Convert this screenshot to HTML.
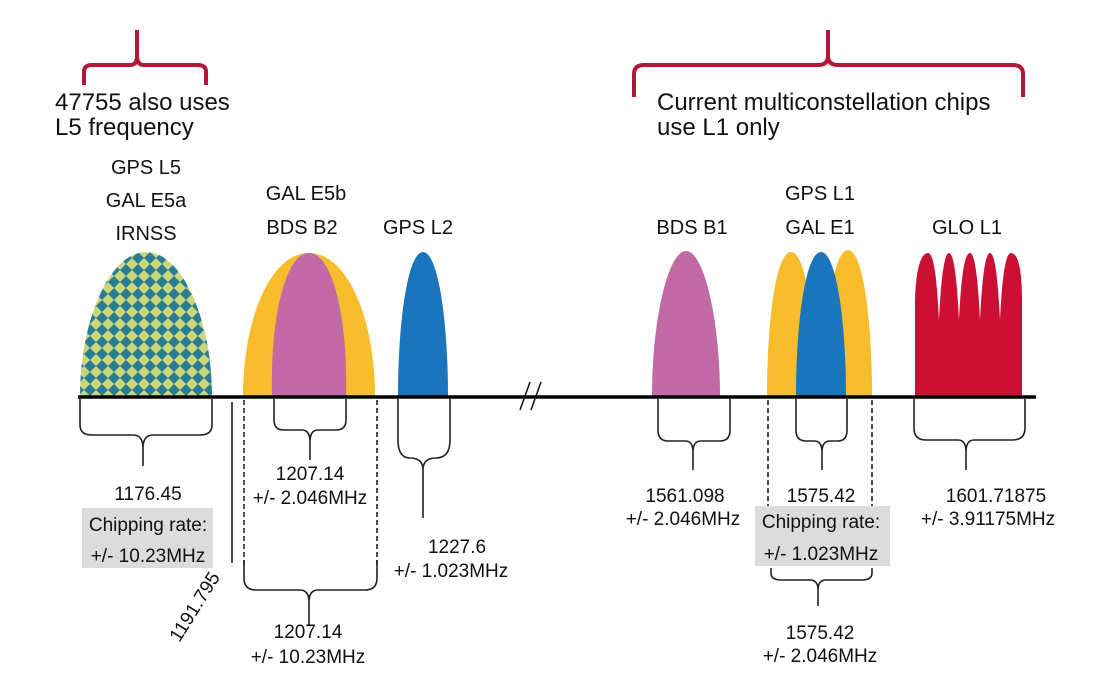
<!DOCTYPE html>
<html><head><meta charset="utf-8"><style>
html,body{margin:0;padding:0;background:#fff;}
svg{display:block;font-family:"Liberation Sans",Arial,sans-serif;}
</style></head><body>
<svg width="1105" height="686" viewBox="0 0 1105 686" xmlns="http://www.w3.org/2000/svg">
<defs>
<pattern id="chk" width="12" height="12" patternUnits="userSpaceOnUse">
<rect width="12" height="12" fill="#c9d77a"/>
<path d="M6 0 L12 6 L6 12 L0 6 Z" fill="#2a7d94"/>
</pattern>
</defs>
<g fill="none" stroke="#b3183a" stroke-width="4" stroke-linejoin="round">
<path d="M84 85 L84 72 Q84 65 92 65 L130 65 Q137 65 137 56 L137 30 M137 56 Q137 65 144 65 L198 65 Q206 65 206 72 L206 85"/>
<path d="M634 97 L634 74 Q634 65 644 65 L818 65 Q828 65 828 56 L828 30 M828 56 Q828 65 838 65 L1013 65 Q1023 65 1023 74 L1023 97"/>
</g>
<g font-size="24" fill="#111">
<text x="55" y="110">47755 also uses</text>
<text x="55" y="135">L5 frequency</text>
<text x="657" y="110">Current multiconstellation chips</text>
<text x="657" y="135">use L1 only</text>
</g>
<g font-size="20" fill="#111" text-anchor="middle">
<text x="146" y="174">GPS L5</text>
<text x="146" y="207">GAL E5a</text>
<text x="146" y="240">IRNSS</text>
<text x="306" y="200">GAL E5b</text>
<text x="302" y="234">BDS B2</text>
<text x="418" y="234">GPS L2</text>
<text x="692" y="234">BDS B1</text>
<text x="820" y="200">GPS L1</text>
<text x="820" y="234">GAL E1</text>
<text x="967" y="234">GLO L1</text>
</g>
<path d="M80 396 C80 320 110 252 146 252 C182 252 212 320 212 396 Z" fill="url(#chk)"/>
<path d="M243 396 C243 320 270 253 309 253 C348 253 375 320 375 396 Z" fill="#f8bd2c"/>
<path d="M272 396 C270 320 285 253 309 253 C333 253 348 320 346 396 Z" fill="#c26aa6"/>
<path d="M398 396 C398 320 408 252 423 252 C438 252 448 320 448 396 Z" fill="#1b75bc"/>
<path d="M652 396 C652 320 668 251 686 251 C704 251 720 320 720 396 Z" fill="#c26aa6"/>
<path d="M767 396 C767 320 776 252 791 252 C806 252 815 320 815 396 Z" fill="#f8bd2c"/>
<path d="M824 396 C824 320 833 250 848 250 C863 250 872 320 872 396 Z" fill="#f8bd2c"/>
<path d="M796 396 C796 320 806 252 821 252 C836 252 846 320 846 396 Z" fill="#1b75bc"/>
<path d="M915 396 L915 300 C916 265 922 253 928 253 C934 253 937 280 939 320 C941 280 944 253 949 253 C954 253 957 280 959 320 C961 280 964 253 970 253 C975 253 978 280 980 320 C982 280 985 253 990 253 C995 253 998 280 1000 320 C1002 280 1005 253 1011 253 C1017 253 1022 265 1022 300 L1022 396 Z" fill="#cc1034"/>
<line x1="78" y1="397" x2="1036" y2="397" stroke="#000" stroke-width="3.5"/>
<g stroke="#111" stroke-width="1.5" fill="none">
<line x1="520" y1="410" x2="530" y2="382"/><line x1="531" y1="410" x2="541" y2="382"/>
</g>
<g stroke="#222" stroke-width="1.6" fill="none">
<path d="M80 399 L80 425 Q80 435 92 435 L133 435 Q143 435 143 448 L143 466 M143 448 Q143 435 153 435 L200 435 Q212 435 212 425 L212 399"/>
<path d="M274 399 L274 420 Q274 430 284 430 L302 430 Q310 430 310 442 L310 460 M310 442 Q310 430 318 430 L336 430 Q346 430 346 420 L346 399"/>
<path d="M398 399 L398 440 Q398 458 410 458 Q423 458 423 470 L423 518 M423 470 Q423 458 436 458 Q450 458 450 440 L450 399"/>
<path d="M658 399 L658 430 Q658 441 668 441 L685 441 Q693 441 693 452 L693 470 M693 452 Q693 441 701 441 L720 441 Q730 441 730 430 L730 399"/>
<path d="M796 399 L796 430 Q796 441 806 441 L814 441 Q822 441 822 452 L822 470 M822 452 Q822 441 830 441 L838 441 Q847 441 847 430 L847 399"/>
<path d="M914 399 L914 428 Q914 440 926 440 L958 440 Q966 440 966 452 L966 470 M966 452 Q966 440 974 440 L1012 440 Q1025 440 1025 428 L1025 399"/>
<path d="M244 560 L244 578 Q244 590 256 590 L300 590 Q309 590 309 602 L309 626 M309 602 Q309 590 318 590 L365 590 Q377 590 377 578 L377 560"/>
<path d="M771 568 L771 573 Q771 580 781 580 L810 580 Q818 580 818 590 L818 606 M818 590 Q818 580 826 580 L862 580 Q872 580 872 573 L872 568"/>
<line x1="232" y1="402" x2="232" y2="563"/>
</g>
<g stroke="#222" stroke-width="1.6" stroke-dasharray="5,3" fill="none">
<line x1="244" y1="400" x2="244" y2="565"/>
<line x1="377" y1="400" x2="377" y2="565"/>
<line x1="768" y1="400" x2="768" y2="506"/>
<line x1="872" y1="400" x2="872" y2="506"/>
</g>
<rect x="82" y="508" width="131" height="60" fill="#dcdcdc"/>
<rect x="755" y="506" width="135" height="60" fill="#dcdcdc"/>
<g font-size="19" fill="#111" text-anchor="middle">
<text x="148" y="500">1176.45</text>
<text x="148" y="531">Chipping rate:</text>
<text x="148" y="562">+/- 10.23MHz</text>
<text x="310" y="480">1207.14</text>
<text x="310" y="504">+/- 2.046MHz</text>
<text x="457" y="553">1227.6</text>
<text x="451" y="577">+/- 1.023MHz</text>
<text x="308" y="638">1207.14</text>
<text x="308" y="663">+/- 10.23MHz</text>
<text x="685" y="502">1561.098</text>
<text x="683" y="525">+/- 2.046MHz</text>
<text x="821" y="502">1575.42</text>
<text x="821" y="528">Chipping rate:</text>
<text x="821" y="560">+/- 1.023MHz</text>
<text x="820" y="639">1575.42</text>
<text x="820" y="662">+/- 2.046MHz</text>
<text x="996" y="502">1601.71875</text>
<text x="988" y="525">+/- 3.91175MHz</text>
<text x="0" y="0" transform="translate(200 610) rotate(-58)">1191.795</text>
</g>
</svg>
</body></html>
